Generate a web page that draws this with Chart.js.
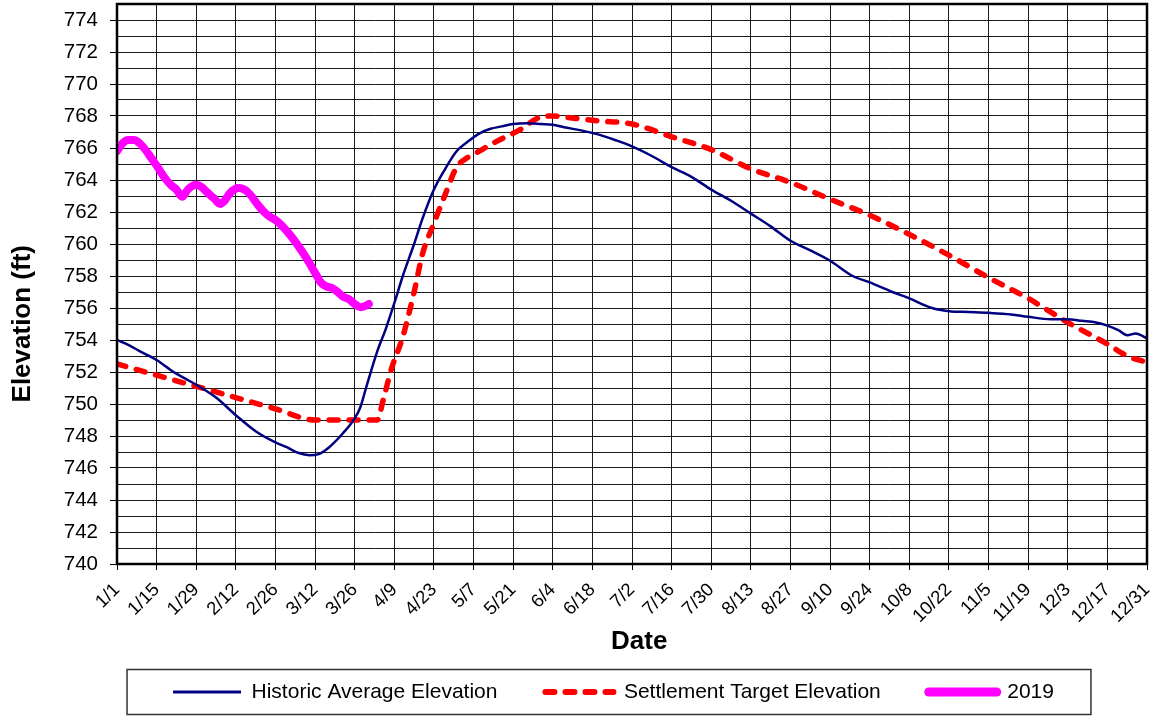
<!DOCTYPE html>
<html>
<head>
<meta charset="utf-8">
<title>Elevation</title>
<script src="https://cdn.jsdelivr.net/npm/chart.js@4.4.1/dist/chart.umd.min.js"></script>
<style>
    html, body { margin: 0; padding: 0; background: #fff; }
    #wrap { position: relative; width: 1162px; height: 717px; }
</style>
</head>
<body>
<div id="wrap"><canvas id="elev-chart"></canvas></div>
<script>
// x = day of year (0 = 1/1), y = elevation in ft
const histDays = [0, 4, 8, 14, 20, 24, 28, 35, 42, 49, 56, 60, 64, 68, 71, 75, 80, 84, 86, 88,
    92, 95, 98, 101, 105, 108, 112, 116, 120, 124, 128, 132, 136, 140, 145, 150, 154, 158, 164, 170,
    176, 182, 189, 196, 203, 210, 217, 224, 231, 238, 245, 252, 260, 266, 274, 280, 288, 294, 301, 308,
    316, 322, 330, 336, 341, 346, 350, 354, 357, 360, 364];
const histElev = [754.0, 753.7, 753.3, 752.75, 752.0, 751.6, 751.2, 750.4, 749.3, 748.3, 747.6, 747.3, 746.95, 746.8, 746.85, 747.3, 748.2, 749.1, 749.8, 751.0,
    753.3, 754.7, 756.3, 758.0, 760.0, 761.6, 763.4, 764.7, 765.8, 766.4, 766.9, 767.2, 767.35, 767.5, 767.55, 767.5, 767.45, 767.3, 767.1, 766.85,
    766.5, 766.1, 765.5, 764.8, 764.2, 763.4, 762.7, 761.9, 761.1, 760.2, 759.6, 758.95, 758.0, 757.6, 757.0, 756.6, 756.0, 755.8, 755.75, 755.7,
    755.6, 755.45, 755.3, 755.3, 755.2, 755.1, 754.9, 754.6, 754.3, 754.4, 754.1];

const targetDays = [0, 14, 28, 42, 56, 70, 84, 92, 94, 97, 101, 105, 108, 112, 116, 120, 123, 127, 134, 142,
    150, 154, 162, 170, 182, 196, 210, 224, 238, 252, 266, 280, 294, 308, 322, 336, 350, 357, 364];
const targetElev = [752.5, 751.8, 751.1, 750.4, 749.7, 749.0, 749.0, 749.0, 750.2, 752.2, 754.2, 757.0, 759.4, 761.3, 763.1, 764.8, 765.3, 765.7, 766.4, 767.1,
    767.95, 768.0, 767.85, 767.7, 767.5, 766.7, 765.9, 764.7, 763.85, 762.8, 761.8, 760.6, 759.3, 757.9, 756.6, 755.1, 753.75, 753.0, 752.6];

const days2019 = [0, 2, 4, 6, 8, 10, 12, 14, 17, 19, 21, 23, 25, 28, 30, 32, 34, 36.5, 38, 40,
    43, 45, 47, 50, 52, 54, 56, 58, 61, 64, 67, 70, 72, 74, 76, 78, 80, 82, 84, 86, 88, 89];
const elev2019 = [765.8, 766.3, 766.5, 766.5, 766.3, 765.9, 765.4, 764.9, 764.1, 763.7, 763.4, 762.95, 763.4, 763.7, 763.55, 763.2, 762.9, 762.5, 762.7, 763.2,
    763.5, 763.4, 763.1, 762.4, 762.0, 761.7, 761.5, 761.2, 760.6, 759.9, 759.1, 758.2, 757.6, 757.35, 757.25, 757.0, 756.7, 756.55, 756.25, 756.05, 756.15, 756.25];

const dateLabels = ['1/1', '1/15', '1/29', '2/12', '2/26', '3/12', '3/26', '4/9', '4/23', '5/7', '5/21', '6/4', '6/18',
    '7/2', '7/16', '7/30', '8/13', '8/27', '9/10', '9/24', '10/8', '10/22', '11/5', '11/19', '12/3', '12/17', '12/31'];
const elevTicks = [740, 742, 744, 746, 748, 750, 752, 754, 756, 758, 760, 762, 764, 766, 768, 770, 772, 774];

const toPoints = (xs, ys) => xs.map((x, i) => ({ x: x, y: ys[i] }));

const FONT = "'Liberation Sans', Arial, sans-serif";
Chart.defaults.font.family = FONT;
Chart.defaults.color = '#000';

// thick frame round the plot, boxed legend shifted to where Excel put it
const plotFrame = {
    id: 'plotFrame',
    afterLayout(chart) {
        const lg = chart.legend;
        lg.left += 40;
        lg.right += 40;
        lg.top = 692 - lg.options.labels.padding - 10.5;
        lg.bottom = chart.height;
    },
    afterDraw(chart) {
        const { ctx, chartArea: a } = chart;
        ctx.save();
        ctx.strokeStyle = '#000';
        ctx.lineWidth = 2.5;
        ctx.strokeRect(a.left, a.top, a.right - a.left, a.bottom - a.top);

        const boxes = chart.legend.legendHitBoxes;
        if (boxes && boxes.length) {
            const first = boxes[0];
            const last = boxes[boxes.length - 1];
            const cy = first.top + first.height / 2;
            const x0 = first.left - 46;
            const x1 = last.left + last.width + 37;
            ctx.lineWidth = 1.5;
            ctx.strokeStyle = '#333';
            ctx.strokeRect(x0, cy - 22.5, x1 - x0, 45);
        }
        ctx.restore();
    }
};

// legend samples taken from the line styles, not from the (hidden) points
const lineLegendLabels = (chart) => chart.data.datasets.map((ds, i) => ({
    text: ds.label,
    strokeStyle: ds.borderColor,
    fillStyle: ds.borderColor,
    fontColor: '#000',
    lineWidth: ds.legendWidth,
    lineDash: ds.borderDash || [],
    lineCap: ds.borderCapStyle || 'butt',
    pointStyle: 'line',
    hidden: false,
    datasetIndex: i
}));

const NBSP = '\u00a0';

const canvas = document.getElementById('elev-chart');
new Chart(canvas, {
    type: 'line',
    data: {
        datasets: [{
            label: 'Historic Average Elevation',
            data: toPoints(histDays, histElev),
            borderColor: '#000080',
            borderWidth: 2.5,
            legendWidth: 3,
            pointRadius: 0,
            cubicInterpolationMode: 'monotone'
        }, {
            label: 'Settlement Target Elevation',
            data: toPoints(targetDays, targetElev),
            borderColor: '#ff0000',
            borderWidth: 5.5,
            legendWidth: 6,
            borderDash: [9, 11],
            borderCapStyle: 'round',
            pointRadius: 0,
            cubicInterpolationMode: 'monotone'
        }, {
            label: '2019',
            data: toPoints(days2019, elev2019),
            borderColor: '#ff00ff',
            borderWidth: 8,
            legendWidth: 9,
            borderCapStyle: 'round',
            borderJoinStyle: 'round',
            pointRadius: 0,
            cubicInterpolationMode: 'monotone'
        }]
    },
    options: {
        responsive: true,
        maintainAspectRatio: false,
        animation: false,
        layout: { padding: { top: 4, right: 15, bottom: 0, left: 0 } },
        scales: {
            x: {
                type: 'linear',
                min: 0,
                max: 364,
                ticks: {
                    stepSize: 14,
                    autoSkip: false,
                    minRotation: 45,
                    maxRotation: 45,
                    padding: 9,
                    color: '#000',
                    font: { size: 18.5 },
                    callback: (v) => dateLabels[Math.round(v / 14)] ?? ''
                },
                grid: { color: '#1a1a1a', lineWidth: 1, tickLength: 6, tickColor: '#000' },
                border: { display: false },
                title: {
                    display: true,
                    // leading spaces nudge the centred title to Excel's spot
                    text: NBSP.repeat(2) + 'Date',
                    color: '#000',
                    font: { size: 26, weight: 'bold' },
                    padding: { top: 0, bottom: 15 }
                },
                afterFit(s) {
                    s.height = 108;
                    s.paddingLeft = 0;
                    s.paddingRight = 0;
                }
            },
            y: {
                min: 740,
                max: 775,
                ticks: {
                    stepSize: 1,
                    autoSkip: false,
                    padding: 12,
                    color: '#000',
                    font: { size: 20.5 },
                    callback: (v) => elevTicks.includes(v) ? String(v) : ''
                },
                grid: {
                    color: '#1a1a1a',
                    lineWidth: 1,
                    tickLength: 7,
                    tickColor: (c) => (c.tick && elevTicks.includes(c.tick.value)) ? '#000' : 'rgba(0,0,0,0)'
                },
                border: { display: false },
                title: {
                    display: true,
                    // trailing spaces push the rotated title down, as in the original
                    text: 'Elevation (ft)' + NBSP.repeat(11),
                    color: '#000',
                    font: { size: 26, weight: 'bold' },
                    padding: { top: 7, bottom: 0 }
                },
                afterFit(s) {
                    s.width = 117;
                    s.paddingTop = 0;
                    s.paddingBottom = 0;
                }
            }
        },
        plugins: {
            legend: {
                position: 'bottom',
                maxHeight: 45,
                labels: {
                    usePointStyle: true,
                    pointStyle: 'line',
                    pointStyleWidth: 68,
                    padding: 48,
                    color: '#000',
                    font: { size: 21 },
                    generateLabels: lineLegendLabels
                }
            },
            tooltip: { enabled: false }
        }
    },
    plugins: [plotFrame]
});
</script>
</body>
</html>
